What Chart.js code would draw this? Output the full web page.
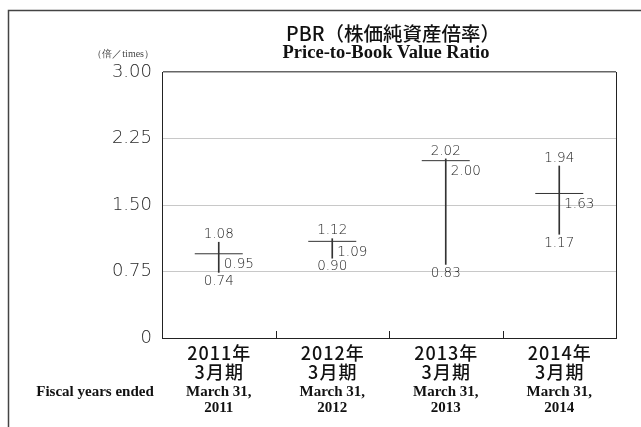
<!DOCTYPE html>
<html>
<head>
<meta charset="utf-8">
<script src="https://cdn.jsdelivr.net/npm/chart.js@4.4.1/dist/chart.umd.min.js"></script>
<style>
html,body{margin:0;padding:0;background:#fff;}
#wrap{width:641px;height:427px;position:relative;}
</style>
</head>
<body>
<div id="wrap"><canvas id="c" width="641" height="427"></canvas></div>
<script>
const years = ['2011', '2012', '2013', '2014'];
const catJa = ['2011年', '2012年', '2013年', '2014年'];
const catJa2 = ['3月期', '3月期', '3月期', '3月期'];
const catEn1 = ['March 31,', 'March 31,', 'March 31,', 'March 31,'];
const catEn2 = ['2011', '2012', '2013', '2014'];
const highs = [1.08, 1.12, 2.02, 1.94];
const lows = [0.74, 0.90, 0.83, 1.17];
const closes = [0.95, 1.09, 2.00, 1.63];
const yTicks = [0, 0.75, 1.50, 2.25, 3.00];

const SANS = '"Noto Sans CJK JP", "Noto Sans", sans-serif';
const NUM = '"DejaVu Sans", "Noto Sans", sans-serif';
const SERIF = '"Liberation Serif", "DejaVu Serif", serif';
const INK = '#333';

const deco = {
  id: 'deco',
  afterDraw(chart) {
    const ctx = chart.ctx;
    const ca = chart.chartArea;
    const x = chart.scales.x, y = chart.scales.y;
    ctx.save();
    // outer frame
    ctx.strokeStyle = '#444';
    ctx.lineWidth = 1.5;
    ctx.beginPath();
    ctx.moveTo(8.5, 427);
    ctx.lineTo(8.5, 10.5);
    ctx.lineTo(641, 10.5);
    ctx.stroke();
    // right border of plot
    ctx.strokeStyle = '#222';
    ctx.lineWidth = 1;
    ctx.beginPath();
    ctx.moveTo(Math.round(ca.right) + 0.5, ca.top);
    ctx.lineTo(Math.round(ca.right) + 0.5, ca.bottom);
    ctx.stroke();
    // category boundary ticks
    for (let i = 0; i < years.length - 1; i++) {
      const px = Math.round((x.getPixelForValue(i) + x.getPixelForValue(i + 1)) / 2) + 0.5;
      ctx.beginPath();
      ctx.moveTo(px, ca.bottom);
      ctx.lineTo(px, ca.bottom - 7);
      ctx.stroke();
    }
    // titles
    ctx.fillStyle = '#111';
    ctx.textAlign = 'center';
    ctx.textBaseline = 'middle';
    ctx.font = '500 19.5px ' + SANS;
    ctx.fillText('PBR（株価純資産倍率）', 393, 34);
    ctx.font = 'bold 18.5px ' + SERIF;
    ctx.fillText('Price-to-Book Value Ratio', 386, 53);
    // unit
    ctx.fillStyle = '#444';
    ctx.textAlign = 'right';
    ctx.font = '10px ' + SERIF;
    ctx.fillText('（倍／times）', 154, 54);
    // x category labels
    ctx.fillStyle = '#111';
    ctx.textAlign = 'center';
    ctx.font = 'bold 15px ' + SERIF;
    ctx.fillText('Fiscal years ended', 95, 392);
    for (let i = 0; i < years.length; i++) {
      const px = x.getPixelForValue(i);
      ctx.font = 'bold 15px ' + SERIF;
      ctx.fillText(catEn1[i], px, 392);
      ctx.fillText(catEn2[i], px, 408);
      ctx.font = '500 18px ' + SANS;
      ctx.letterSpacing = '1px';
      ctx.fillText(catJa[i], px + 0.5, 353);
      ctx.fillText(catJa2[i], px + 0.5, 372);
      ctx.letterSpacing = '0px';
    }
    // data labels
    ctx.fillStyle = '#222';
    ctx.font = '200 13.5px ' + NUM;
    for (let i = 0; i < years.length; i++) {
      const px = x.getPixelForValue(i);
      const yh = y.getPixelForValue(highs[i]);
      const yl = y.getPixelForValue(lows[i]);
      const yc = y.getPixelForValue(closes[i]);
      ctx.textAlign = 'center';
      ctx.textBaseline = 'bottom';
      ctx.fillText(highs[i].toFixed(2), px, yh - 1);
      ctx.textBaseline = 'top';
      ctx.fillText(lows[i].toFixed(2), px, yl + 2);
      ctx.textAlign = 'left';
      ctx.fillText(closes[i].toFixed(2), px + 5, yc + 4);
    }
    ctx.restore();
  }
};

new Chart(document.getElementById('c'), {
  data: {
    labels: years,
    datasets: [
      {
        type: 'bar',
        data: lows.map((l, i) => [l, highs[i]]),
        backgroundColor: INK,
        borderWidth: 0,
        barThickness: 1,
        grouped: false
      },
      {
        type: 'line',
        data: closes,
        showLine: false,
        pointStyle: 'line',
        pointRadius: 24,
        pointHoverRadius: 24,
        borderColor: INK,
        pointBorderColor: INK,
        pointBorderWidth: 1,
        borderWidth: 1
      }
    ]
  },
  options: {
    responsive: false,
    animation: false,
    events: [],
    layout: { padding: { top: 72, right: 22, left: 0, bottom: 0 } },
    plugins: { legend: { display: false }, tooltip: { enabled: false } },
    scales: {
      x: {
        grid: { display: false },
        border: { display: true, color: '#222', width: 1 },
        ticks: { display: false },
        afterFit: s => { s.height = 89; }
      },
      y: {
        min: 0,
        max: 3,
        afterBuildTicks: s => { s.ticks = yTicks.map(v => ({ value: v })); },
        grid: {
          drawTicks: false,
          color: c => (c.tick && c.tick.value === 3) ? '#666' : (c.tick && c.tick.value === 0 ? 'rgba(0,0,0,0)' : '#c8c8c8'),
          lineWidth: c => (c.tick && c.tick.value === 3) ? 1.5 : 1
        },
        border: { display: true, color: '#222', width: 1 },
        ticks: {
          padding: 10,
          color: '#2a2a2a',
          font: { family: NUM, size: 18, weight: 200 },
          callback: v => v === 0 ? '0' : v.toFixed(2)
        },
        afterFit: s => { s.width = 162; }
      }
    }
  },
  plugins: [deco]
});
</script>
</body>
</html>
